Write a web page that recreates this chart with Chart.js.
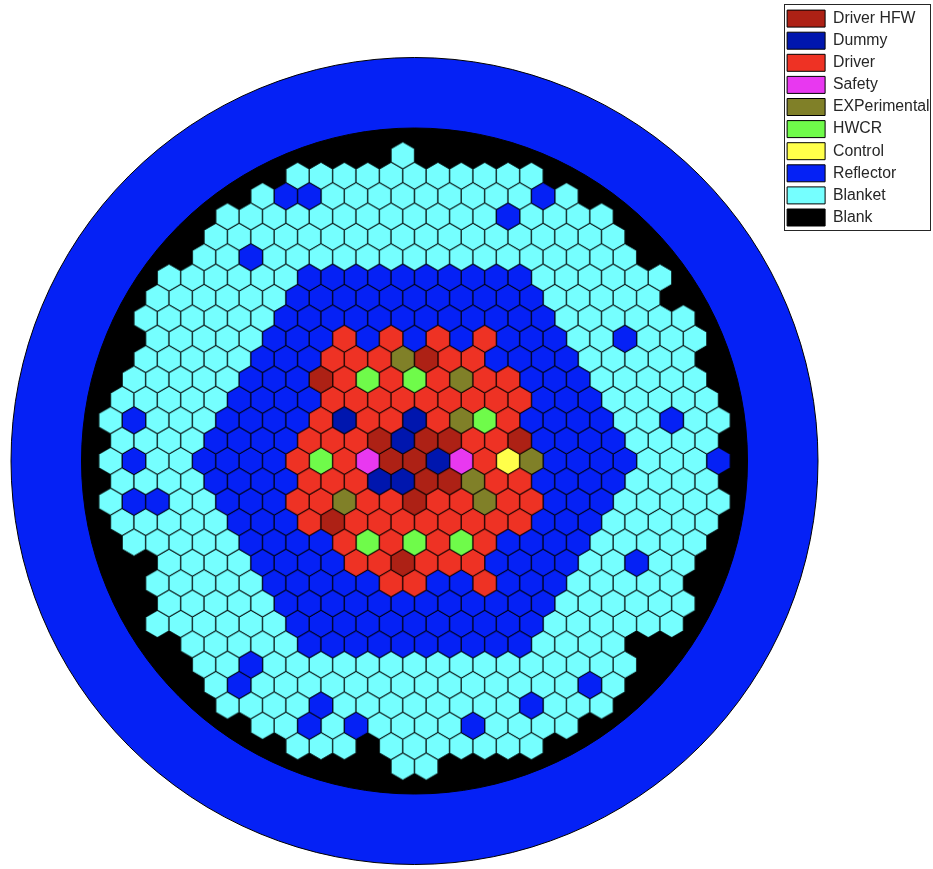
<!DOCTYPE html>
<html>
<head>
<meta charset="utf-8">
<title>Core map</title>
<style>
  html, body { margin: 0; padding: 0; background: #fff; overflow: hidden; }
  canvas { display: block; }
</style>
<script src="https://cdn.jsdelivr.net/npm/chart.js@4"></script>
</head>
<body>
<canvas id="core" width="933" height="869"></canvas>
<script>
// ── legend entries, one letter per assembly type ──────────────────────────
const typeCodes  = ['H', 'D', 'F', 'S', 'E', 'W', 'C', 'R', 'B'];
const typeLabels = ['Driver HFW', 'Dummy', 'Driver', 'Safety', 'EXPerimental', 'HWCR', 'Control', 'Reflector', 'Blanket'];
const typeColors = ['#ad2115', '#0016ae', '#ee3224', '#e838f0', '#808028', '#6ffb4a', '#ffff4a', '#0521f5', '#75ffff'];

// ── core map: first half-pitch column of each row, then the row itself ────
const rowNumbers = [-15, -14, -13, -12, -11, -10, -9, -8, -7, -6, -5, -4, -3, -2, -1, 0,
                    1, 2, 3, 4, 5, 6, 7, 8, 9, 10, 11, 12, 13, 14, 15];
const rowStarts  = [-1, -10, -13, -16, -17, -18, -21, -22, -23, -22, -23, -24, -25, -26, -25, -26,
                    -25, -26, -25, -24, -21, -22, -21, -22, -19, -18, -17, -16, -13, -10, -1];
const rowCells   = [
  'B',
  'BBBBBBBBBBB',
  'BRRBBBBBBBBBRB',
  'BBBBBBBBBBBBRBBBB',
  'BBBBBBBBBBBBBBBBBB',
  'BBRBBBBBBBBBBBBBBBB',
  'BBBBBBRRRRRRRRRRBBBBBB',
  'BBBBBBRRRRRRRRRRRBBBBB',
  'BBBBBBRRRRRRRRRRRRBBBBBB',
  'BBBBBRRRFRFRFRFRRRBBRBBB',
  'BBBBBRRRFFFEHFFRRRRBBBBB',
  'BBBBBRRRHFWFWFEFFRRRBBBBB',
  'BBBBBRRRRFFFFFFFFFRRRBBBBB',
  'BRBBBRRRRFDFFDFEWFRRRRBBRBB',
  'BBBBRRRRFFFHDHHFFHRRRRBBBB',
  'BRBBRRRRFWFSHHDSFCERRRRBBBR',
  'BBBBRRRRFFFDDHHEFFRRRRBBBB',
  'BRRBBRRRFFEFFHFFEFFRRRBBBBB',
  'BBBBBRRRFHFFFFFFFFRRRBBBBB',
  'BBBBBRRRRFWFWFWFRRRRBBBBB',
  'BBBBRRRRFFHFFFRRRRBBRBB',
  'BBBBBRRRRRFFRRFRRRBBBBB',
  'BBBBBRRRRRRRRRRRRBBBBBB',
  'BBBBBBRRRRRRRRRRRBBBBBB',
  'BBBBBRRRRRRRRRRBBBB',
  'BBRBBBBBBBBBBBBBBBB',
  'BRBBBBBBBBBBBBBBRB',
  'BBBBRBBBBBBBBRBBB',
  'BBRBRBBBBRBBBB',
  'BBB BBBBBBB',
  'BB'
];

// one point for each circle of the vessel, at the core centre
const vesselCentre = [{ x: 0, y: 0 }];

// ── picture geometry in pixels ────────────────────────────────────────────
const centreX = 414.5, centreY = 461;
const halfPitch = 11.69, rowPitch = 20.37;
const plotRight = 782, plotTop = 5, plotBottom = 869;

function cellsOfType(code) {
  const pts = [];
  rowCells.forEach((cells, i) => {
    [...cells].forEach((c, k) => {
      if (c === code) pts.push({ x: rowStarts[i] + 2 * k, y: rowNumbers[i] });
    });
  });
  return pts;
}

// hexagon marker, pointy side up, sized to tile the lattice
function hexMarker(color) {
  const w = halfPitch * 2, r = rowPitch / 1.5;
  const cv = document.createElement('canvas');
  cv.width = 28; cv.height = 32;
  const g = cv.getContext('2d');
  g.translate(14, 16);
  g.beginPath();
  g.moveTo(0, -r);
  g.lineTo(w / 2, -r / 2);
  g.lineTo(w / 2, r / 2);
  g.lineTo(0, r);
  g.lineTo(-w / 2, r / 2);
  g.lineTo(-w / 2, -r / 2);
  g.closePath();
  g.fillStyle = color;
  g.fill();
  g.lineWidth = 1;
  g.strokeStyle = 'rgba(0,0,0,0.85)';
  g.stroke();
  return cv;
}

const datasets = typeCodes.map((code, i) => ({
  label: typeLabels[i],
  data: cellsOfType(code),
  backgroundColor: typeColors[i],
  borderColor: '#000',
  borderWidth: 1,
  pointStyle: hexMarker(typeColors[i]),
  pointRadius: 12,
  clip: false
}));

// first dataset is drawn on top, so the circles go last
datasets.push({
  label: 'Blank',
  data: vesselCentre,
  backgroundColor: '#000',
  borderColor: '#000',
  borderWidth: 1,
  pointStyle: 'circle',
  pointRadius: 333,
  clip: false
});
datasets.push({
  label: 'Vessel',
  data: vesselCentre,
  backgroundColor: typeColors[7],
  borderColor: '#000',
  borderWidth: 1,
  pointStyle: 'circle',
  pointRadius: 403.5,
  clip: false
});

const legendFrame = {
  id: 'legendFrame',
  afterDraw(chart) {
    const ctx = chart.ctx;
    ctx.save();
    ctx.lineWidth = 1;
    ctx.strokeStyle = '#262626';
    ctx.strokeRect(784.5, 4.5, 146, 226);
    ctx.restore();
  }
};

new Chart(document.getElementById('core'), {
  type: 'scatter',
  data: { datasets },
  plugins: [legendFrame],
  options: {
    responsive: false,
    animation: false,
    devicePixelRatio: 1,
    // the big circles must not push the plot area in
    layout: { autoPadding: false, padding: { top: plotTop } },
    events: [],
    scales: {
      x: {
        display: false,
        min: -centreX / halfPitch,
        max: (plotRight - centreX) / halfPitch
      },
      y: {
        display: false,
        reverse: true,
        min: (plotTop - centreY) / rowPitch,
        max: (plotBottom - centreY) / rowPitch
      }
    },
    plugins: {
      tooltip: { enabled: false },
      legend: {
        position: 'right',
        align: 'start',
        maxWidth: 933 - plotRight,
        labels: {
          boxWidth: 38,
          boxHeight: 17,
          padding: 5.1,
          color: '#262626',
          font: { family: '"Liberation Sans", Arial, sans-serif', size: 15.8 },
          filter: item => item.datasetIndex !== 10
        }
      }
    }
  }
});
</script>
</body>
</html>
